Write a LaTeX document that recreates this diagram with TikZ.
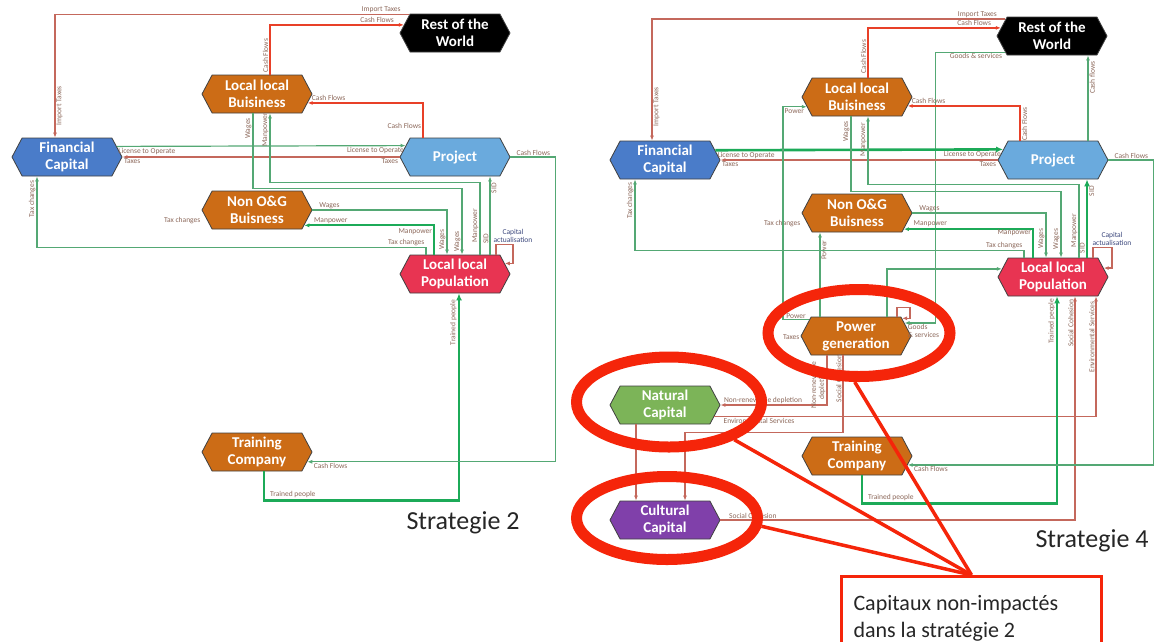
\documentclass[tikz,border=0pt]{standalone}
\usepackage{fontspec}
\setmainfont{Carlito}
\usetikzlibrary{arrows.meta,shapes.symbols,shapes.geometric,calc}

\definecolor{orangeN}{RGB}{204,108,22}
\definecolor{blueN}{RGB}{74,124,201}
\definecolor{projN}{RGB}{106,170,221}
\definecolor{popN}{RGB}{232,52,82}
\definecolor{natN}{RGB}{124,180,88}
\definecolor{culN}{RGB}{128,64,170}
\definecolor{gcol}{RGB}{84,168,116}
\definecolor{gbold}{RGB}{28,170,88}
\definecolor{rdull}{RGB}{196,104,92}
\definecolor{rbright}{RGB}{232,64,40}
\definecolor{lblcol}{RGB}{140,104,90}
\definecolor{capcol}{RGB}{60,72,125}
\definecolor{ringred}{RGB}{245,37,10}

\begin{document}
\begin{tikzpicture}[x=1pt,y=-1pt,
  hexa/.style={signal,signal to=east and west,signal pointer angle=124,draw=black!75,line width=.8pt,minimum width=110pt,minimum height=38pt,inner sep=0pt,align=center,text=white,font=\fontsize{15}{17}\selectfont\bfseries},
  lbl/.style={font=\fontsize{7.5}{8}\selectfont,text=lblcol,inner sep=1pt},
  caplbl/.style={lbl,text=capcol,align=center},
  gthin/.style={-{Latex[length=5pt,width=4pt]},draw=gcol,line width=1.2pt},
  gmid/.style={gthin,draw=gbold,line width=2pt},
  gthick/.style={-{Latex[length=7pt,width=6pt]},draw=gbold,line width=2.6pt},
  rthin/.style={-{Latex[length=5pt,width=4pt]},draw=rdull,line width=1.2pt},
  rbold/.style={-{Latex[length=5pt,width=4pt]},draw=rbright,line width=1.8pt},
  title/.style={font=\fontsize{26}{28}\selectfont,text=black!85},
  ring/.style={ellipse,draw=ringred,line width=11pt},
  pointer/.style={draw=ringred,line width=3.5pt},
  notebox/.style={draw=ringred,line width=3pt,fill=white,minimum height=84pt,text width=236pt,align=flush left,inner sep=12pt,font=\fontsize{22}{27}\selectfont,text=black!85}]
\clip (0,0) rectangle (1155,641);
\fill[white] (0,0) rectangle (1155,641);

% Strategie 2
\node[hexa,fill=black] (rw2) at (455,33) {Rest of the\\World};
\node[hexa,fill=orangeN] (lb2) at (257,94) {Local local\\Buisiness};
\node[hexa,fill=blueN] (fc2) at (67,157) {Financial\\Capital};
\node[hexa,fill=projN] (pj2) at (455,157) {Project};
\node[hexa,fill=orangeN] (no2) at (257,210) {Non O\&G\\Buisness};
\node[hexa,fill=popN] (pop2) at (455,274) {Local local\\Population};
\node[hexa,fill=orangeN] (tc2) at (257,452) {Training\\Company};
\node[title] (s2) at (463,523) {Strategie 2};
\node[lbl,left] (no2tax) at ([yshift=-11pt]no2.west) {Tax changes};

\draw[rthin] (rw2.158) -| ([xshift=-12pt]fc2.north) node[lbl,pos=0.01,above left] {Import Taxes} node[lbl,pos=0.87,rotate=90,anchor=north] {Import Taxes};
\draw[rbold] ([xshift=13pt]lb2.north) |- (rw2.171) node[lbl,pos=0.97,above left] {Cash Flows} node[lbl,pos=0.19,rotate=90,anchor=south] {Cash Flows};
\draw[rbold] ([xshift=-32pt]pj2.north) |- (lb2.-10) node[lbl,pos=0.99,above right] {Cash Flows} node[lbl,pos=0.1,above left] {Cash Flows};
\draw[gthin] (fc2.12.6) -- (pj2.167.4) node[lbl,pos=0,below right] {License to Operate} node[lbl,pos=1,below left] {License to Operate};
\draw[rthin] (pj2.west) -- (fc2.east) node[lbl,pos=0,below left] {Taxes} node[lbl,pos=1,below right] {Taxes};
\draw[gthin] ([xshift=-4pt]lb2.south) -- ++(0,75) node[lbl,pos=0.2,rotate=90,anchor=south] {Wages} -| ([xshift=7pt]pop2.north) node[lbl,pos=0.9,rotate=90,anchor=south] {Wages};
\draw[gthin] ([xshift=25pt]pop2.north) -- ++(0,-72) node[lbl,pos=0.4,rotate=90,anchor=south] {Manpower} -| ([xshift=13pt]lb2.south) node[lbl,pos=0.88,rotate=90,anchor=south] {Manpower};
\draw[gthin] (no2.east) -| ([xshift=-8pt]pop2.north) node[lbl,pos=0.02,above right] {Wages} node[lbl,pos=0.83,rotate=90,anchor=south] {Wages};
\draw[gmid] ([xshift=-21pt]pop2.north) |- (no2.-18.9) node[lbl,pos=0.97,above right] {Manpower} node[lbl,pos=0.4,left] {Manpower};
\draw[gthin] ([xshift=-29pt]pop2.north) -- ++(0,-7) -| ([xshift=-30pt]fc2.south) node[lbl,pos=0,above left] {Tax changes} node[lbl,pos=0.84,rotate=90,anchor=south] {Tax changes};
\draw[gthin] ([xshift=35pt]pop2.north) -- ([xshift=35pt]pj2.south) node[lbl,pos=0.85,rotate=90,anchor=north] {SID} node[lbl,pos=0.2,rotate=90,anchor=south] {SID};
\draw[rthin] ([xshift=41pt]pop2.north) -- ++(0,-10) -- ++(17,0) node[caplbl,above] {Capital\\actualisation} |- (pop2.12.6);
\draw[gthick] ([xshift=7pt]tc2.south) -- ++(0,29) -| ([xshift=4pt]pop2.south) node[lbl,pos=0.01,above right] {Trained people} node[lbl,pos=0.93,rotate=90,anchor=south] {Trained people};
\draw[gthin] (pj2.east) -- ++(45,0) node[lbl,pos=0.1,above right] {Cash Flows} |- (tc2.-11.4) node[lbl,pos=0.99,below right] {Cash Flows};

% Strategie 4
\node[hexa,fill=black] (rw4) at (1052,36) {Rest of the\\World};
\node[hexa,fill=orangeN] (lb4) at (857,97) {Local local\\Buisiness};
\node[hexa,fill=blueN] (fc4) at (665,160) {Financial\\Capital};
\node[hexa,fill=projN] (pj4) at (1053,160) {Project};
\node[hexa,fill=orangeN] (no4) at (857,213) {Non O\&G\\Buisness};
\node[hexa,fill=popN] (pop4) at (1053,277) {Local local\\Population};
\node[hexa,fill=orangeN] (pg4) at (856,336) {Power\\generation};
\node[hexa,fill=natN] (nc4) at (665,405) {Natural\\Capital};
\node[hexa,fill=orangeN] (tc4) at (857,456) {Training\\Company};
\node[hexa,fill=culN] (cc4) at (665,520) {Cultural\\Capital};
\node[title] (s4) at (1092,541) {Strategie 4};
\node[lbl,left] (no4tax) at ([yshift=-11pt]no4.west) {Tax changes};
\node[lbl,left] (pg4tax) at ([yshift=-1pt]pg4.west) {Taxes};

\draw[rthin] (rw4.160) -| ([xshift=-13pt]fc4.north) node[lbl,pos=0.01,above left] {Import Taxes} node[lbl,pos=0.86,rotate=90,anchor=north] {Import Taxes};
\draw[rbold] ([xshift=11pt]lb4.north) |- (rw4.171) node[lbl,pos=0.97,above left] {Cash Flows} node[lbl,pos=0.21,rotate=90,anchor=south] {Cash Flows};
\draw[gthin] (rw4.199) -- ++(-70,0) node[lbl,pos=0.02,below left] {Goods \& services} |- (pg4.15) node[lbl,pos=0.97,below right,align=left] {Goods\\\& services};
\draw[rbold] ([xshift=-33pt]pj4.north) |- (lb4.-10) node[lbl,pos=0.99,above right] {Cash Flows} node[lbl,pos=0.24,rotate=90,anchor=north] {Cash Flows};
\draw[gthin] ([xshift=35pt]pj4.north) -- ([xshift=36pt]rw4.south) node[lbl,pos=0.74,rotate=90,anchor=north] {Cash flows};
\draw[gthick] (fc4.11.4) -- (pj4.168.6) node[lbl,pos=0,below right] {License to Operate} node[lbl,pos=1,below left] {License to Operate};
\draw[rthin] (pj4.west) -- (fc4.east) node[lbl,pos=0,below left] {Taxes} node[lbl,pos=1,below right] {Taxes};
\draw[gthin] (pg4.161) -- ++(-26,0) node[lbl,pos=0.5,above] {Power} |- (lb4.191.4) node[lbl,pos=0.5,below right] {Power};
\draw[gthin] ([xshift=-36pt]pg4.north) -- ([xshift=-37pt]no4.south) node[lbl,pos=0.79,rotate=90,anchor=north] {Power};
\draw[gthin] ([xshift=-29pt]pop4.north) -- ++(0,-7) -| ([xshift=-30pt]fc4.south) node[lbl,pos=0,above left] {Tax changes} node[lbl,pos=0.85,rotate=90,anchor=south] {Tax changes};
\draw[gthin] ([xshift=-6pt]lb4.south) -- ++(0,75) node[lbl,pos=0.2,rotate=90,anchor=south] {Wages} -| ([xshift=8pt]pop4.north) node[lbl,pos=0.86,rotate=90,anchor=south] {Wages};
\draw[gthin] ([xshift=26pt]pop4.north) -- ++(0,-73) node[lbl,pos=0.37,rotate=90,anchor=south] {Manpower} -| ([xshift=11pt]lb4.south) node[lbl,pos=0.83,rotate=90,anchor=south] {Manpower};
\draw[gthin] (no4.east) -| ([xshift=-7pt]pop4.north) node[lbl,pos=0.02,above right] {Wages} node[lbl,pos=0.79,rotate=90,anchor=south] {Wages};
\draw[gmid] ([xshift=-20pt]pop4.north) |- (no4.-19) node[lbl,pos=0.97,above right] {Manpower} node[lbl,pos=0.43,left] {Manpower};
\draw[gthick] ([xshift=34pt]pop4.north) -- ([xshift=34pt]pj4.south) node[lbl,pos=0.85,rotate=90,anchor=north] {SID} node[lbl,pos=0.12,rotate=90,anchor=south] {SID};
\draw[rthin] ([xshift=40pt]pop4.north) -- ++(0,-10) -- ++(19,0) node[caplbl,above] {Capital\\actualisation} |- (pop4.10);
\draw[gthin] ([xshift=31pt]pg4.north) |- (pop4.171);
\draw[rthin] ([xshift=41pt]pg4.north) -- ++(0,-9) -- ++(13,0) |- (pg4.21);
\draw[rthin] ([xshift=-29pt]pg4.south) |- (nc4.east) node[lbl,pos=0.8,above] {Non-renewable depletion} node[lbl,pos=0.3,rotate=90,anchor=south,align=center] {Non-renewable\\depletion};
\draw[rthin] (nc4.-13.8) -| ([xshift=43pt]pop4.south) node[lbl,pos=0.01,below right] {Environmental Services} node[lbl,pos=0.83,rotate=90,anchor=south] {Environmental Services};
\draw[rthin] ([xshift=-13pt]pg4.south) -- ++(0,77) node[lbl,pos=0.3,rotate=90,anchor=south] {Social Cohesion} -| ([xshift=20pt]cc4.north);
\draw[rthin] ([xshift=-29pt]nc4.south) -- ([xshift=-29pt]cc4.north);
\draw[rthin] (cc4.east) -| ([xshift=22pt]pop4.south) node[lbl,pos=0.01,above right] {Social Cohesion} node[lbl,pos=0.94,rotate=90,anchor=south] {Social Cohesion};
\draw[gthick] ([xshift=5pt]tc4.south) -- ++(0,28) -| ([xshift=4pt]pop4.south) node[lbl,pos=0.01,above right] {Trained people} node[lbl,pos=0.94,rotate=90,anchor=south] {Trained people};
\draw[gthin] (pj4.east) -- ++(45,0) node[lbl,pos=0.1,above right] {Cash Flows} |- (tc4.-10) node[lbl,pos=0.99,below right] {Cash Flows};

% highlights and note
\node[ring,minimum width=182pt,minimum height=87pt] (hpg) at (859,333) {};
\node[ring,minimum width=185pt,minimum height=90pt] (hnc) at (669,402) {};
\node[ring,minimum width=181pt,minimum height=83pt] (hcc) at (667,518) {};
\node[notebox,anchor=north west] (note) at (840,575) {Capitaux non-impactés\\dans la stratégie 2};
\draw[pointer] (note.north) -- (hpg.-95);
\draw[pointer] (note.north) -- (hnc.-30);
\draw[pointer] (note.north) -- (hcc.-5);
\end{tikzpicture}
\end{document}
